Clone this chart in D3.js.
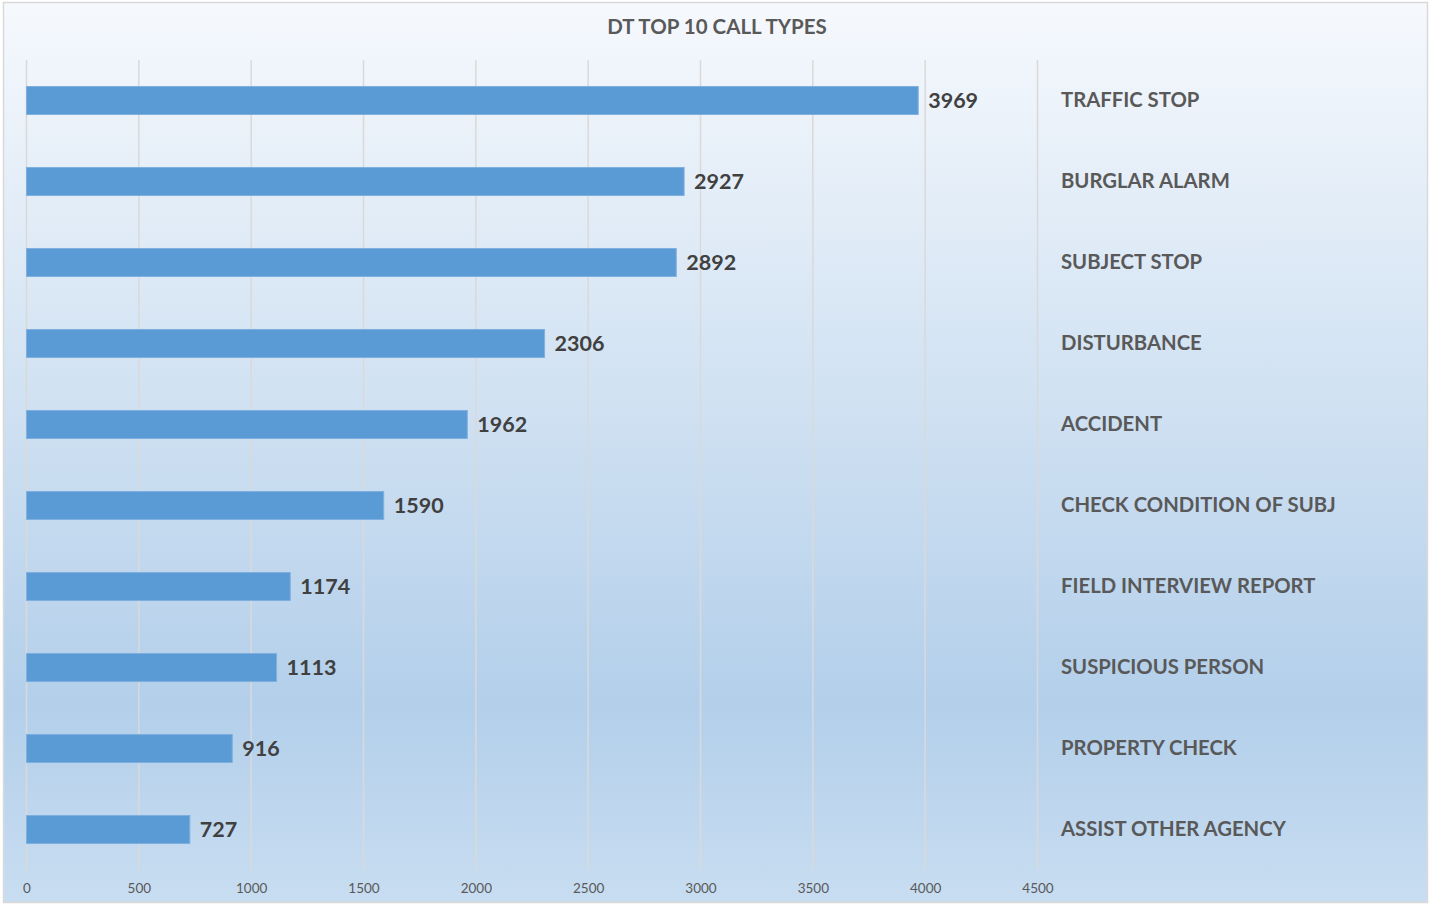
<!DOCTYPE html>
<html><head><meta charset="utf-8">
<script src="https://cdn.jsdelivr.net/npm/d3@7"></script>
<style>body{margin:0;background:#fff;}svg{display:block;}</style>
</head><body>
<svg id="c" width="1430" height="905"></svg>
<script>
const categories = ["TRAFFIC STOP","BURGLAR ALARM","SUBJECT STOP","DISTURBANCE","ACCIDENT","CHECK CONDITION OF SUBJ","FIELD INTERVIEW REPORT","SUSPICIOUS PERSON","PROPERTY CHECK","ASSIST OTHER AGENCY"];
const values = [3969,2927,2892,2306,1962,1590,1174,1113,916,727];
const tickValues = [0,500,1000,1500,2000,2500,3000,3500,4000,4500];
const title = "DT TOP 10 CALL TYPES";

const svg = d3.select("#c");
const defs = svg.append("defs");
const g = defs.append("linearGradient").attr("id","bg").attr("x1",0).attr("y1",0).attr("x2",0).attr("y2",1);
g.append("stop").attr("offset","0%").attr("stop-color","#f6f9fd");
g.append("stop").attr("offset","78%").attr("stop-color","#b3cfea");
g.append("stop").attr("offset","100%").attr("stop-color","#c8ddf1");
svg.append("rect").attr("x",3.5).attr("y",2.5).attr("width",1424).attr("height",900)
  .attr("fill","url(#bg)").attr("stroke","#d9d9d9").attr("stroke-width",1.5);

const font = "Lato, 'Open Sans', sans-serif";
const x = d3.scaleLinear().domain([0,4500]).range([26.5,1037.5]);
const y = d3.scaleBand().domain(categories).range([60,870]).paddingInner(0.654).paddingOuter(0.327);

// grid
svg.append("g").selectAll("line").data(tickValues).join("line")
  .attr("x1",d=>x(d)).attr("x2",d=>x(d)).attr("y1",60).attr("y2",870)
  .attr("stroke","#d9d9d9").attr("stroke-width",1.5);

// axis labels
const ax = svg.append("g").attr("transform","translate(0,870)")
  .call(d3.axisBottom(x).tickValues(tickValues).tickSize(0).tickPadding(13).tickFormat(d3.format("d")));
ax.select(".domain").remove();
ax.selectAll("text").attr("fill","#595959").style("font-family",font).style("font-size","13.5px");

// bars
svg.append("g").selectAll("rect").data(values).join("rect")
  .attr("x",x(0)).attr("y",(d,i)=>y(categories[i]))
  .attr("width",d=>x(d)-x(0)).attr("height",y.bandwidth())
  .attr("fill","#5b9bd5").attr("stroke","#7fb0df").attr("stroke-width",1);

// value labels
svg.append("g").selectAll("text").data(values).join("text")
  .attr("x",d=>x(d)+10).attr("y",(d,i)=>y(categories[i])+y.bandwidth()/2+2)
  .attr("dominant-baseline","middle")
  .attr("fill","#404040").style("font-family",font).style("font-weight","bold").style("font-size","21.5px")
  .text(d=>d);

// category labels
svg.append("g").selectAll("text").data(categories).join("text")
  .attr("x",1061).attr("y",d=>y(d)+y.bandwidth()/2+1)
  .attr("dominant-baseline","middle")
  .attr("fill","#595959").style("font-family",font).style("font-weight","bold").style("font-size","20.3px")
  .text(d=>d);

// title
svg.append("text").attr("x",717).attr("y",29).attr("text-anchor","middle").attr("dominant-baseline","middle")
  .attr("fill","#595959").style("font-family",font).style("font-weight","bold").style("font-size","20.5px")
  .text(title);
</script>
</body></html>
